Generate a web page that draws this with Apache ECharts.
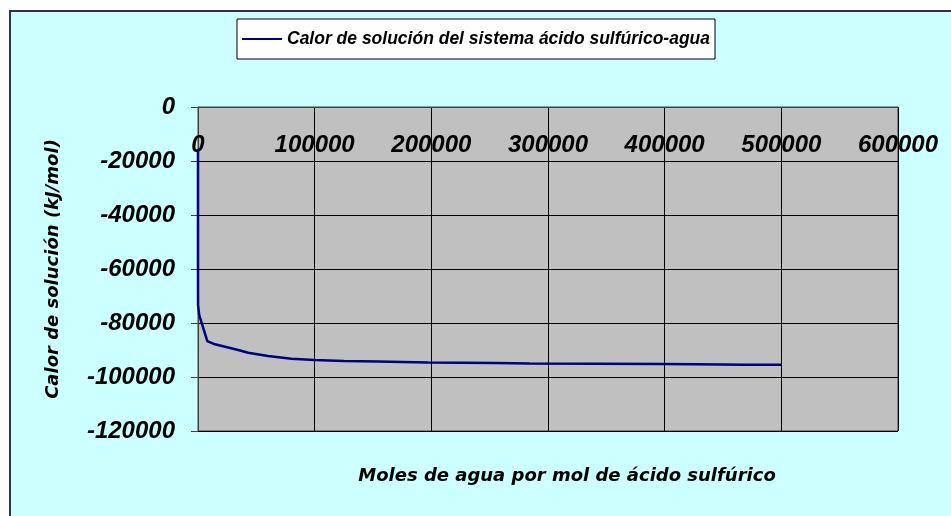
<!DOCTYPE html>
<html lang="es">
<head>
    <meta charset="UTF-8">
    <title>Calor de solución</title>
    <style>
        html, body { margin: 0; padding: 0; background: #fff; }
    </style>
</head>
<body>
<div id="main" style="width: 951px;height:516px;"></div>
<script src="https://cdn.jsdelivr.net/npm/echarts@6/dist/echarts.min.js"></script>
<script>
    // moles de agua por mol de ácido
    var molesAgua = [0.5, 1, 2, 5, 10, 50, 100, 1000, 8000, 14500, 34500, 43000, 60000, 80000,
        100000, 125000, 154000, 197000, 255000, 284000, 397000, 426000, 469000, 500000];
    // calor de solución (kJ/mol)
    var calor = [-15700, -28000, -42000, -58000, -67000, -73300, -74000, -77000, -86700, -87900,
        -90000, -91000, -92200, -93200, -93700, -94100, -94300, -94600, -94800, -95000,
        -95200, -95300, -95500, -95500];
    var serieNombre = 'Calor de solución del sistema ácido sulfúrico-agua';
    var ejeX = 'Moles de agua por mol de ácido sulfúrico';
    var ejeY = 'Calor de solución (kJ/mol)';

    var puntos = [];
    for (var i = 0; i < molesAgua.length; i++) {
        puntos.push([molesAgua[i], calor[i]]);
    }

    var fuenteNum = {
        color: '#000',
        fontFamily: 'Liberation Sans',
        fontWeight: 'bold',
        fontStyle: 'italic',
        fontSize: 24,
        formatter: function (v) { return String(v); }
    };
    var fuenteTitulo = {
        fontFamily: 'DejaVu Sans',
        fontWeight: 'bold',
        fontStyle: 'italic',
        fontSize: 18,
        color: '#000'
    };

    var myChart = echarts.init(document.getElementById('main'));
    var option = {
        backgroundColor: '#fff',
        animation: false,
        graphic: [{
            type: 'rect',
            z: -10,
            shape: { x: 10, y: 11, width: 960, height: 520 },
            style: { fill: '#ccffff', stroke: '#333', lineWidth: 2 }
        }],
        title: {
            text: ejeX,
            left: 562,
            top: 462,
            textAlign: 'center',
            textStyle: fuenteTitulo
        },
        legend: {
            left: 237,
            top: 19,
            padding: [11, 5, 11, 5],
            icon: 'rect',
            itemWidth: 40,
            itemHeight: 2,
            itemGap: 10,
            backgroundColor: '#fff',
            borderColor: '#000',
            borderWidth: 1,
            textStyle: {
                fontFamily: 'Liberation Sans',
                fontWeight: 'bold',
                fontStyle: 'italic',
                fontSize: 17.5,
                color: '#000'
            },
            data: [serieNombre]
        },
        grid: {
            left: 198,
            top: 107,
            width: 700,
            height: 324,
            show: true,
            backgroundColor: '#c0c0c0',
            borderColor: '#404040',
            borderWidth: 1
        },
        xAxis: {
            type: 'value',
            position: 'top',
            min: 0,
            max: 600000,
            interval: 100000,
            axisLine: { show: true, onZero: false, lineStyle: { color: '#404040' } },
            axisTick: { show: false },
            axisLabel: Object.assign({ inside: true, margin: 26 }, fuenteNum),
            splitLine: { show: true, lineStyle: { color: '#000', width: 1 } }
        },
        yAxis: {
            type: 'value',
            min: -120000,
            max: 0,
            interval: 20000,
            name: ejeY,
            nameLocation: 'middle',
            nameGap: 136,
            nameTextStyle: fuenteTitulo,
            axisLine: { show: true, lineStyle: { color: '#404040' } },
            axisTick: { show: true, length: 7, lineStyle: { color: '#404040' } },
            axisLabel: Object.assign({ margin: 23 }, fuenteNum),
            splitLine: { show: true, lineStyle: { color: '#000', width: 1 } }
        },
        series: [{
            name: serieNombre,
            type: 'line',
            data: puntos,
            symbol: 'none',
            lineStyle: { color: '#000080', width: 2.5 },
            itemStyle: { color: '#000080' }
        }]
    };
    myChart.setOption(option);
</script>
</body>
</html>
